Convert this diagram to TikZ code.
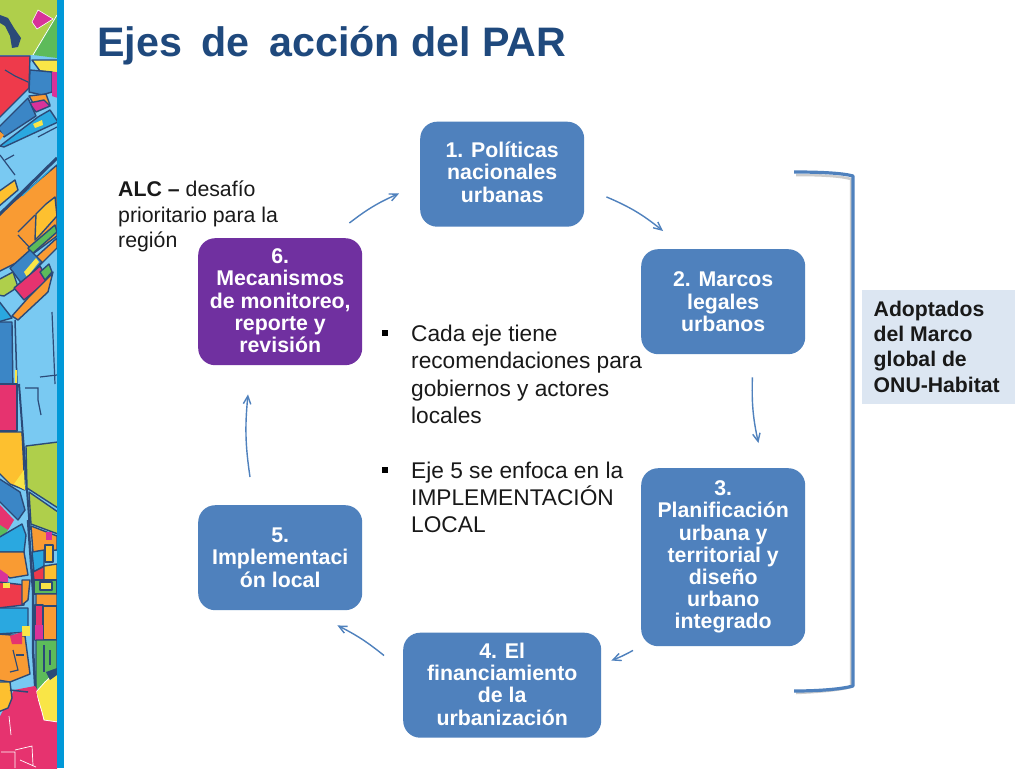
\documentclass[tikz,border=0pt]{standalone}
\usepackage{fontspec}
\setmainfont{Liberation Sans}
\usetikzlibrary{arrows.meta,calc}
\definecolor{nodeblue}{HTML}{4F81BD}
\definecolor{nodepurple}{HTML}{7030A0}
\definecolor{titleblue}{HTML}{1F497D}
\definecolor{panel}{HTML}{DCE6F2}
\definecolor{strip}{HTML}{0098D8}
\definecolor{mapdark}{HTML}{2B4A78}
\definecolor{mlime}{HTML}{AFCF4B}
\definecolor{mgreen}{HTML}{5DBB5A}
\definecolor{mred}{HTML}{EE3A4B}
\definecolor{mpink}{HTML}{E6336F}
\definecolor{mmag}{HTML}{D8329A}
\definecolor{myel}{HTML}{F9E547}
\definecolor{mgold}{HTML}{FDC02F}
\definecolor{morange}{HTML}{F99B33}
\definecolor{mblue}{HTML}{3B86C6}
\definecolor{mcyan}{HTML}{2AA8E0}
\definecolor{msky}{HTML}{79C9F2}
\tikzset{
  stepbox/.style={draw=none,fill=nodeblue,rounded corners=17pt,text=white,font=\fontsize{21.3}{22.2}\selectfont\bfseries,align=center,inner sep=0pt,anchor=north west},
  arr/.style={draw=nodeblue,line width=1.4pt,-{Straight Barb[length=8pt,width=12pt,angle'=50]}},
  bodytxt/.style={anchor=north west,align=left,inner sep=0pt,text=black!90},
  mp/.style={draw=mapdark,line width=1.4pt,line join=round},
  ml/.style={draw=mapdark,line width=1.2pt},
}
\begin{document}
\begin{tikzpicture}[x=1pt,y=-1pt]
\useasboundingbox (0,0) rectangle (1024,768);
\fill[white] (0,0) rectangle (1024,768);
% map strip
\begin{scope}
\clip (0,0) rectangle (57,768);
\fill[msky] (0,0) rectangle (57,768);
% upper part
\fill[mlime] (0,0)--(57,0)--(57,17)--(33,55)--(0,55)--cycle;
\fill[mgreen] (55,17)--(57,17)--(57,58)--(33,55)--cycle;
\draw[white,line width=.8pt] (57,15)--(33,55);
\fill[mmag,draw=white,line width=.6pt] (38,10)--(53,19)--(37,29)--(32,22)--cycle;
\fill[mapdark] (0,15)--(8,18)--(14,28)--(21,38)--(18,47)--(12,48)--(10,36)--(5,26)--(0,23)--cycle;
\fill[mred,mp] (-2,56)--(30,56)--(29,88)--(-2,119)--cycle;
\draw[ml] (5,70)--(15,76)--(28,82);
\fill[myel,mp] (32,60)--(58,60)--(58,73)--(40,71)--cycle;
\fill[mblue,mp] (30,70)--(52,72)--(52,92)--(42,95)--(29,92)--cycle;
\fill[mmag] (52,72)--(58,72)--(58,98)--(52,96)--cycle;
\fill[morange,mp] (29,96)--(46,94)--(50,105)--(38,102)--(33,103)--cycle;
\fill[mmag,mp] (29,103)--(36,112)--(50,106)--(44,100)--cycle;
\fill[mblue,mp] (-2,128)--(28,98)--(36,116)--(4,137)--cycle;
\fill[morange] (-2,130)--(4,135)--(0,140)--cycle;
\fill[mcyan,mp] (0,146)--(38,117)--(50,110)--(58,122)--(4,147)--cycle;
\fill[myel] (33,124)--(42,120)--(43,125)--(35,128)--cycle;
\draw[ml] (38,137)--(57,127);
\draw[ml] (0,155)--(15,175);
\draw[ml] (5,160)--(14,155);
% orange diagonal
\fill[morange,mp] (-2,215)--(57,165)--(57,236)--(30,256)--(-2,272)--cycle;
\fill[mgold,mp] (-2,192)--(15,180)--(18,190)--(-2,207)--cycle;
\draw[mapdark,line width=3pt] (-2,216)--(57,158);
\draw[mcyan,line width=1pt] (22,196)--(50,170);
\fill[mgold,mp] (36,214)--(46,204)--(55,197)--(57,216)--(40,235)--(35,240)--cycle;
\draw[ml] (18,232)--(28,222)--(35,215);
\draw[ml] (18,235)--(30,248);
\fill[mgreen,mp] (28,248)--(55,225)--(57,232)--(32,254)--cycle;
\fill[morange,mp] (35,258)--(57,238)--(57,248)--(40,265)--cycle;
\fill[mblue,mp] (10,268)--(30,250)--(42,262)--(22,284)--cycle;
\fill[myel] (24,272)--(36,258)--(39,262)--(27,277)--cycle;
\fill[mlime,mp] (-2,280)--(13,272)--(18,287)--(4,296)--(-2,295)--cycle;
\fill[mpink,mp] (14,288)--(40,266)--(48,280)--(24,300)--cycle;
\fill[mgreen,mp] (40,272)--(49,264)--(52,272)--(45,280)--cycle;
\fill[morange,mp] (12,316)--(28,298)--(50,276)--(53,272)--(48,292)--(18,320)--cycle;
\fill[mcyan,mp] (-2,300)--(12,318)--(-2,322)--cycle;
\fill[mblue,mp] (-2,322)--(12,322)--(13,392)--(-2,392)--cycle;
\draw[mapdark,line width=1.5pt] (15,320)--(17,384);
\draw[myel,line width=1.2pt] (16,370)--(16,384);
\draw[ml] (52,312)--(55,384);
\draw[ml] (40,377)--(57,375);
% lower part
\fill[mpink,mp] (-2,384)--(17,384)--(17,431)--(-2,431)--cycle;
\fill[mgold,mp] (-2,432)--(22,432)--(25,490)--(10,484)--(-2,472)--cycle;
\fill[myel] (14,484)--(24,470)--(25,490)--cycle;
\draw[mapdark,line width=2pt] (19,384)--(24,450)--(30,530);
\fill[mlime,mp] (26,446)--(58,442)--(58,508)--(27,488)--cycle;
\fill[mlime,mp] (29,492)--(58,512)--(58,534)--(31,524)--cycle;
\draw[ml] (25,388)--(38,388)--(38,400)--(41,415);
\fill[mblue,mp] (-2,478)--(20,492)--(25,510)--(18,520)--(-2,500)--cycle;
\fill[mpink] (0,505)--(14,520)--(8,530)--(0,528)--cycle;
\fill[mgreen] (0,525)--(8,530)--(2,538)--(0,535)--cycle;
% central blocks
\fill[mcyan,mp] (-2,538)--(22,524)--(26,535)--(24,552)--(-2,552)--cycle;
\fill[morange,mp] (-2,552)--(24,552)--(28,575)--(10,578)--(-2,570)--cycle;
\fill[mmag] (-2,568)--(8,575)--(8,582)--(-2,582)--cycle;
\fill[mred,mp] (-2,582)--(25,585)--(24,605)--(-2,608)--cycle;
\fill[morange,mp] (22,580)--(30,580)--(28,600)--(22,605)--cycle;
\fill[myel] (3,583)--(10,583)--(10,588)--(3,588)--cycle;
\fill[mcyan,mp] (-2,608)--(28,608)--(28,632)--(-2,634)--cycle;
\fill[morange,mp] (-2,634)--(25,636)--(30,674)--(10,682)--(-2,680)--cycle;
\fill[myel] (22,626)--(30,626)--(30,636)--(22,636)--cycle;
\fill[mpink] (10,636)--(22,632)--(22,644)--(12,644)--cycle;
\draw[ml] (13,650)--(18,670)--(10,672);
\draw[ml] (16,655)--(24,655);
\fill[morange,mp] (31,526)--(57,536)--(57,550)--(33,552)--cycle;
\fill[mgold,mp] (45,545)--(53,545)--(53,562)--(45,562)--cycle;
\fill[mmag] (46,532)--(52,532)--(52,540)--(46,540)--cycle;
\fill[mcyan,mp] (32,552)--(44,550)--(44,566)--(34,572)--cycle;
\fill[mred,mp] (33,572)--(45,566)--(45,580)--(34,580)--cycle;
\fill[mgold,mp] (44,566)--(57,564)--(57,580)--(44,580)--cycle;
\fill[mgreen,mp] (34,580)--(57,580)--(57,594)--(34,594)--cycle;
\fill[myel,mp] (40,582)--(52,582)--(52,590)--(40,590)--cycle;
\fill[morange,mp] (36,594)--(57,594)--(57,625)--(36,620)--cycle;
\fill[mpink,mp] (35,605)--(43,605)--(43,640)--(35,640)--cycle;
\fill[morange,mp] (43,606)--(57,606)--(57,640)--(43,640)--cycle;
\fill[mmag] (35,625)--(43,625)--(43,640)--(35,640)--cycle;
\fill[mgreen,mp] (36,640)--(57,640)--(57,672)--(40,690)--(36,690)--cycle;
\draw[ml] (44,645)--(44,672);
\draw[ml] (50,650)--(50,665);
\draw[mapdark,line width=2.5pt] (28,520)--(33,590)--(33,650)--(36,700);
% bottom
\fill[mpink] (-2,720)--(14,690)--(35,686)--(57,722)--(57,770)--(-2,770)--cycle;
\fill[mgold,mp] (-2,682)--(10,682)--(12,698)--(8,708)--(-2,712)--cycle;
\fill[myel,draw=white,line width=.8pt] (36,692)--(45,682)--(58,670)--(58,722)--(44,720)--(42,712)--cycle;
\fill[mapdark] (46,672)--(57,668)--(57,675)--(50,680)--cycle;
\fill[mpink] (30,690)--(36,690)--(40,712)--(30,705)--cycle;
\draw[mapdark,line width=1.5pt] (10,690)--(28,692);
\draw[white,line width=.7pt] (9,716)--(11,735) (1,752)--(15,752)--(15,768) (15,750)--(32,746)--(33,765) (20,760)--(36,767);
\end{scope}
\fill[strip] (57,0) rectangle (64,768);
% title
\node (title) [anchor=base west,inner sep=0pt,text=titleblue,font=\fontsize{41.2}{43}\selectfont\bfseries] at (97,56.7) {Ejes\hspace{.2em} de\hspace{.2em} acción del PAR};
% step nodes
\node (n1) [stepbox,minimum width=164pt,minimum height=105pt] at (420,121.5) {1. Políticas\\nacionales\\urbanas\\[-18pt]\mbox{}};
\node (n2) [stepbox,minimum width=164pt,minimum height=105pt] at (641,249) {2. Marcos\\legales\\urbanos};
\node (n3) [stepbox,minimum width=164pt,minimum height=178pt] at (641,468) {3.\\Planificación\\urbana y\\territorial y\\diseño\\urbano\\integrado};
\node (n4) [stepbox,minimum width=198pt,minimum height=105pt] at (403,632.5) {4. El\\financiamiento\\de la\\urbanización\\[-20pt]\mbox{}};
\node (n5) [stepbox,minimum width=164pt,minimum height=105pt] at (198,505) {5.\\Implementaci\\ón local};
\node (n6) [stepbox,fill=nodepurple,minimum width=164pt,minimum height=127pt] at (198,238) {6.\\Mecanismos\\de monitoreo,\\reporte y\\revisión\\[-20pt]\mbox{}};
% arrows
\draw[arr] ([shift={(22,-30)}]n1.south east) to[bend left=8] ([shift={(22,-18)}]n2.north west);
\draw[arr] ([shift={(-53,23)}]n2.south east) to[bend right=7] ([shift={(-47,-25)}]n3.north east);
\draw[arr] ([shift={(-8,4)}]n3.south west) to[bend left=4] ([shift={(10,28)}]n4.north east);
\draw[arr] ([shift={(-19,23)}]n4.north west) to[bend right=6] ([shift={(-25,15)}]n5.south east);
\draw[arr] ([shift={(52,-28)}]n5.north west) to[bend left=7] ([shift={(50,29)}]n6.south west);
\draw[arr] ([shift={(-13,-15)}]n6.north east) to[bend left=7] ([shift={(-21,72)}]n1.north west);
% bracket
\draw[black!20,line width=2.5pt,line join=round] (796,175) .. controls (820,175) and (840,176) .. (851,179) -- (851,687) .. controls (840,690) and (820,692) .. (796,693);
\draw[nodeblue,line width=3.2pt,line join=round] (794,172) .. controls (820,172) and (842,173) .. (853,176) -- (853,686) .. controls (842,689) and (820,691) .. (794,691);
% texts
\node (alc) [bodytxt,font=\fontsize{21.3}{25.5}\selectfont] at (118,181) {\textbf{ALC –} desafío\\prioritario para la\\región};
\node (adop) [fill=panel,anchor=north west,minimum width=153pt,minimum height=113.5pt,inner sep=0pt] at (862,290) {};
\node (adoptxt) [bodytxt,font=\fontsize{21.2}{25.2}\selectfont\bfseries] at (873.5,301) {Adoptados\\del Marco\\global de\\ONU-Habitat};
\node (b1) [bodytxt,font=\fontsize{22.7}{27.3}\selectfont] at (411,325) {Cada eje tiene\\recomendaciones para\\gobiernos y actores\\locales};
\node (b2) [bodytxt,font=\fontsize{22.7}{27.3}\selectfont] at (411,461.5) {Eje 5 se enfoca en la\\IMPLEMENTACIÓN\\LOCAL};
\fill[black] (381.5,330) rectangle (387.5,336);
\fill[black] (381.5,466.5) rectangle (387.5,472.5);
\end{tikzpicture}
\end{document}
